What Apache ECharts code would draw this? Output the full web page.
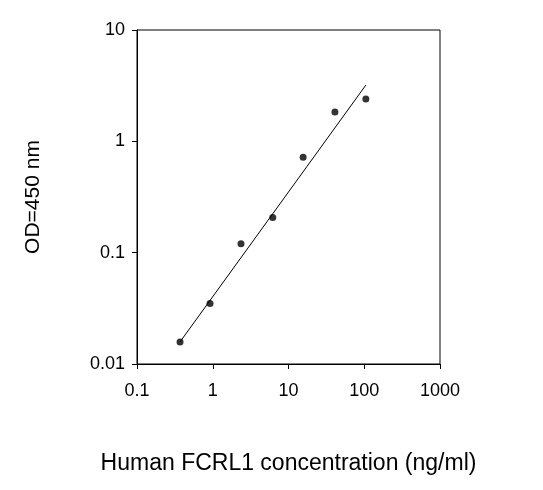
<!DOCTYPE html><html><head><script src="https://cdn.jsdelivr.net/npm/echarts@6/dist/echarts.min.js"></script></head><body style="margin:0"><div id="c" style="width:543px;height:490px"></div><script>
const concentrations=[0.37,0.92,2.36,6.2,15.6,41,105];
const odValues=[0.0158,0.035,0.12,0.207,0.72,1.83,2.4];
const fitX=[0.37,105];
const fitY=[0.0158,3.2];
const ch=echarts.init(document.getElementById('c'));
const f='Arial, Liberation Sans';
ch.setOption({animation:false,
grid:{left:137,top:30,width:303,height:334},
xAxis:{type:'log',min:0.1,max:1000,logBase:10,axisLine:{lineStyle:{color:'#000'}},axisTick:{lineStyle:{color:'#000'}},splitLine:{show:false},
axisLabel:{color:'#000',fontSize:18,fontFamily:f,margin:12,formatter:v=>String(v)},
name:'Human FCRL1 concentration (ng/ml)',nameLocation:'middle',nameGap:80,nameTextStyle:{color:'#000',fontSize:23,fontFamily:f}},
yAxis:{type:'log',min:0.01,max:10,axisLine:{lineStyle:{color:'#000'}},axisTick:{lineStyle:{color:'#000'}},splitLine:{show:false},
axisLabel:{color:'#000',fontSize:18,fontFamily:f,margin:12,formatter:v=>String(v)},
name:'OD=450 nm',nameLocation:'middle',nameGap:86,nameTextStyle:{color:'#000',fontSize:21,fontFamily:f}},
series:[{type:'scatter',data:concentrations.map((x,i)=>[x,odValues[i]]),symbolSize:7,itemStyle:{color:'#000'}},
{type:'line',data:fitX.map((x,i)=>[x,fitY[i]]),symbol:'none',lineStyle:{color:'#000',width:1}}],
graphic:[{type:'rect',shape:{x:137,y:30,width:303,height:334},style:{fill:null,stroke:'#000',lineWidth:1},silent:true}]});
</script></body></html>
